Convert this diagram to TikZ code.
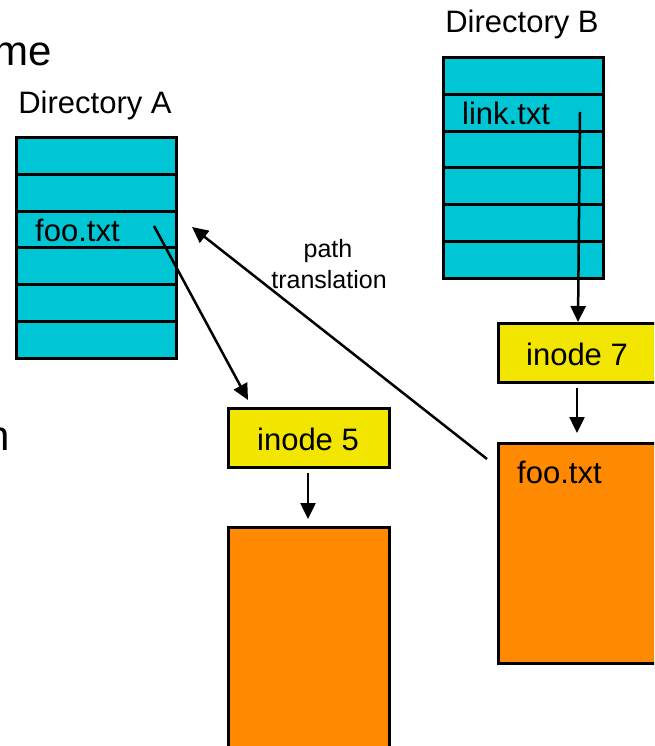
\documentclass[tikz,border=0pt]{standalone}
\usepackage{fontspec}
\setmainfont{Liberation Sans}
\usetikzlibrary{arrows.meta}
\definecolor{dircyan}{RGB}{0,197,213}
\definecolor{inodeyellow}{RGB}{242,230,0}
\definecolor{dataorange}{RGB}{255,137,0}
\tikzset{
  box/.style={draw=black, line width=3pt, inner sep=0pt, anchor=north west},
  dirrow/.style={box, fill=dircyan, minimum width=160pt, minimum height=36.8pt},
  inodebox/.style={box, fill=inodeyellow, minimum width=161pt, minimum height=59pt},
  databox/.style={box, fill=dataorange, minimum width=161pt},
  lbl/.style={inner sep=0pt, font=\fontsize{31}{36}\selectfont},
  arr/.style={line width=2.5pt, -{Triangle[length=16pt,width=15pt]}},
}
\begin{document}
\begin{tikzpicture}[x=1pt,y=-1pt]
\clip (0,0) rectangle (654,746);
\fill[white] (0,0) rectangle (654,746);

% partial big text at the left edge
\node[inner sep=0pt, anchor=base east, font=\fontsize{42}{48}\selectfont] (me) at (52,66) {me};
\node[inner sep=0pt, anchor=base east, font=\fontsize{42}{48}\selectfont] (n) at (10,450) {n};

% Directory A
\node[lbl, anchor=base] (dirAlbl) at (95,114) {Directory A};
\foreach \i in {0,...,5} {
  \node[dirrow] (A\i) at (15,{136+36.8*\i}) {};
}
\node[lbl, anchor=base west] (fooA) at (35,241) {foo.txt};

% Directory B
\node[lbl, anchor=base] (dirBlbl) at (522,33) {Directory B};
\foreach \i in {0,...,5} {
  \node[dirrow] (B\i) at (442,{56+36.8*\i}) {};
}
\node[lbl, anchor=base west] (linkB) at (462,125) {link.txt};

% inodes
\node[inodebox] (inode5) at (227,407) {};
\node[lbl, anchor=base] (inode5lbl) at (308,450) {inode 5};
\node[inodebox] (inode7) at (497,322) {};
\node[lbl, anchor=base] (inode7lbl) at (577,365) {inode 7};

% data blocks
\node[databox, minimum height=230pt] (data5) at (227,526) {};
\node[databox, minimum height=220pt] (data7) at (497,442) {};
\node[lbl, anchor=base west] (fooB) at (517,483) {foo.txt};

% path translation label
\node[inner sep=0pt, anchor=base, font=\fontsize{25}{30}\selectfont] (path) at (328,257) {path};
\node[inner sep=0pt, anchor=base, font=\fontsize{25}{30}\selectfont] (transl) at (329,288) {translation};

% connector end points
\coordinate (fooAstart) at (154,226);
\coordinate (fooAtip) at (248,400);
\coordinate (linkstart) at (580,112);
\coordinate (linktip) at (578,322);
\coordinate (i5start) at (308,473);
\coordinate (i5tip) at (308,519);
\coordinate (i7start) at (577,388);
\coordinate (i7tip) at (577,433);
\coordinate (ptstart) at (487,459);
\coordinate (pttip) at (192,227);

\draw[arr] (fooAstart) -- (fooAtip);
\draw[arr] (linkstart) -- (linktip);
\draw[arr] (i5start) -- (i5tip);
\draw[arr] (i7start) -- (i7tip);
\draw[arr] (ptstart) -- (pttip);
\end{tikzpicture}
\end{document}
